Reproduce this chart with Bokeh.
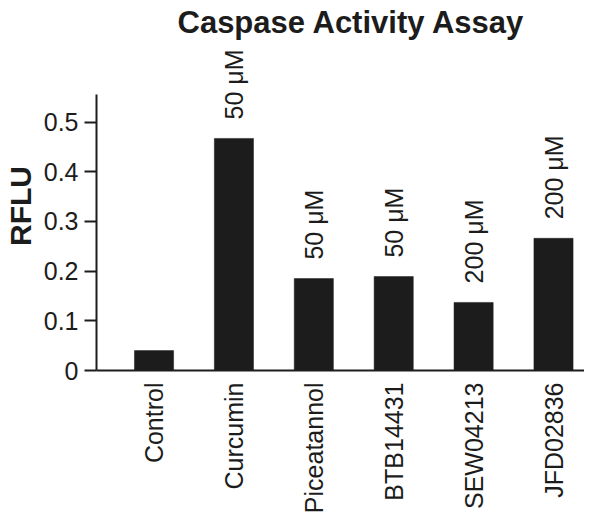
import math
from bokeh.plotting import figure
from bokeh.models import Range1d, FixedTicker, ColumnDataSource
from bokeh.core.properties import value
from bokeh.embed import file_html
from bokeh.resources import INLINE

categories = ["Control", "Curcumin", "Piceatannol", "BTB14431", "SEW04213", "JFD02836"]
rflu = [0.040, 0.467, 0.185, 0.189, 0.137, 0.266]
doses = ["", "50 μM", "50 μM", "50 μM", "200 μM", "200 μM"]
y_ticks = [0, 0.1, 0.2, 0.3, 0.4, 0.5]
y_tick_labels = ["0", "0.1", "0.2", "0.3", "0.4", "0.5"]
y_axis_top = 0.555

FONT = "Liberation Sans"
INK = "#1c1c1c"

xs = list(range(len(categories)))
src = ColumnDataSource(dict(x=xs, top=rflu, dose=doses))

p = figure(width=584, height=516, output_backend="svg", toolbar_location=None,
           x_range=Range1d(-0.72, 5.388), y_range=Range1d(0, 0.662),
           min_border_left=88, min_border_right=0, min_border_top=40, min_border_bottom=0)

p.title.text = "Caspase Activity Assay"
p.title.text_font = FONT
p.title.text_font_size = "31px"
p.title.text_font_style = "bold"
p.title.text_color = INK
p.title.align = "left"
p.title.offset = 81
p.title.standoff = 4

p.vbar(x="x", top="top", width=0.49, bottom=0, source=src,
       fill_color=INK, line_color=INK, line_width=0.5)

p.text(x="x", y="top", text="dose", source=src, angle=math.pi / 2,
       text_align="left", text_baseline="middle", y_offset=-19,
       text_font=value(FONT), text_font_size="25px", text_color=INK)

p.xgrid.visible = False
p.ygrid.visible = False
p.outline_line_color = None
p.background_fill_color = "white"

xa = p.xaxis[0]
xa.ticker = FixedTicker(ticks=xs)
xa.major_label_overrides = {i: c for i, c in enumerate(categories)}
xa.major_label_orientation = math.pi / 2
xa.major_tick_line_color = None
xa.major_tick_in = 0
xa.major_tick_out = 0
xa.minor_tick_line_color = None
xa.major_label_standoff = 12
xa.axis_label = None
xa.axis_label_standoff = 0
xa.major_label_text_font = FONT
xa.major_label_text_font_size = "25px"
xa.major_label_text_color = INK
xa.axis_line_color = INK
xa.axis_line_width = 2

ya = p.yaxis[0]
ya.ticker = FixedTicker(ticks=y_ticks)
ya.bounds = (0, y_axis_top)
ya.major_label_overrides = {t: l for t, l in zip(y_ticks, y_tick_labels)}
ya.minor_tick_line_color = None
ya.major_tick_in = 0
ya.major_tick_out = 12
ya.major_tick_line_width = 2
ya.major_tick_line_color = INK
ya.major_label_standoff = 6
ya.major_label_text_font = FONT
ya.major_label_text_font_size = "25px"
ya.major_label_text_color = INK
ya.axis_line_color = INK
ya.axis_line_width = 2
ya.axis_label = "RFLU"
ya.axis_label_text_font = FONT
ya.axis_label_text_font_size = "30px"
ya.axis_label_text_font_style = "bold"
ya.axis_label_text_color = INK
ya.axis_label_standoff = 4

open("out.html", "w").write(file_html(p, INLINE))
